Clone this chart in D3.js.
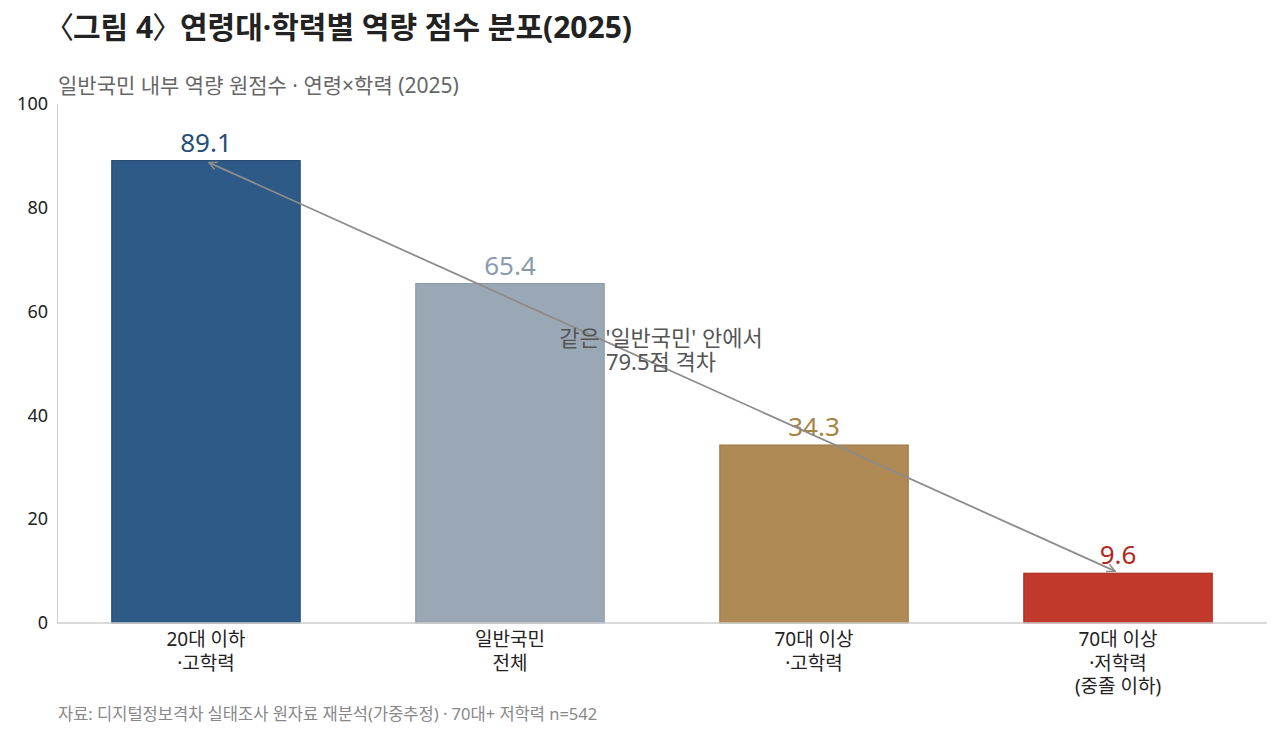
<!DOCTYPE html>
<html>
<head>
<meta charset="utf-8">
<script src="https://cdn.jsdelivr.net/npm/d3@7"></script>
<style>
  body { margin: 0; background: #fff; }
  svg { font-family: "Noto Sans", "Noto Sans CJK KR", sans-serif; }
</style>
</head>
<body>
<svg width="1280" height="736"></svg>
<script>
// data
var categories = [["20대 이하", "·고학력"], ["일반국민", "전체"], ["70대 이상", "·고학력"], ["70대 이상", "·저학력", "(중졸 이하)"]];
var values = [89.1, 65.4, 34.3, 9.6];
var yTicks = [0, 20, 40, 60, 80, 100];

var barColors = ["#2e5a87", "#9aa8b5", "#b08a55", "#c0392b"];
var barStrokes = ["#1f4870", "#8796a4", "#9c7744", "#a8281c"];
var labelColors = ["#1f4e79", "#8a9bb0", "#a8823f", "#b3261b"];

var svg = d3.select("svg");
var plotL = 57, plotR = 1267, plotT = 104, plotB = 623;

var x = d3.scaleBand()
  .domain(d3.range(values.length))
  .range([plotL, plotR])
  .paddingInner(0.38)
  .paddingOuter(0.18);

var y = d3.scaleLinear()
  .domain([0, 100])
  .range([plotB, plotT]);

// titles (CJK angle brackets are wide, so pull them in)
var title = svg.append("text")
  .attr("x", 58).attr("y", 38)
  .attr("font-size", 30).attr("font-weight", "bold").attr("fill", "#222");
title.append("tspan").attr("dx", -14).attr("font-weight", "normal").text("〈");
title.append("tspan").attr("dx", -1).text("그림 4");
title.append("tspan").attr("dx", -1).attr("font-weight", "normal").text("〉");
title.append("tspan").attr("dx", -10).text(" 연령대·학력별 역량 점수 분포(2025)");

svg.append("text")
  .attr("x", 58).attr("y", 93)
  .attr("font-size", 21).attr("fill", "#666")
  .text("일반국민 내부 역량 원점수 · 연령×학력 (2025)");

// y axis
var yAxis = svg.append("g")
  .attr("transform", "translate(" + plotL + ",0)")
  .call(d3.axisLeft(y).tickValues(yTicks).tickSize(0).tickPadding(9));
yAxis.select(".domain").attr("stroke", "#ccc");
yAxis.selectAll("text").attr("font-size", 18).attr("fill", "#222")
  .attr("font-family", "\"Noto Sans\", sans-serif");

// bars
svg.selectAll("rect.bar")
  .data(values)
  .enter()
  .append("rect")
  .attr("class", "bar")
  .attr("x", function(d, i) { return x(i); })
  .attr("y", function(d) { return y(d); })
  .attr("width", x.bandwidth())
  .attr("height", function(d) { return y(0) - y(d); })
  .attr("fill", function(d, i) { return barColors[i]; })
  .attr("stroke", function(d, i) { return barStrokes[i]; })
  .attr("stroke-width", 1);

// x baseline
svg.append("line")
  .attr("x1", plotL).attr("x2", plotR)
  .attr("y1", y(0)).attr("y2", y(0))
  .attr("stroke", "#ccc").attr("stroke-width", 1.5);

// value labels
svg.selectAll("text.val")
  .data(values)
  .enter()
  .append("text")
  .attr("class", "val")
  .attr("x", function(d, i) { return x(i) + x.bandwidth() / 2; })
  .attr("y", function(d) { return y(d) - 9; })
  .attr("text-anchor", "middle")
  .attr("font-size", 26)
  .attr("fill", function(d, i) { return labelColors[i]; })
  .text(function(d) { return d.toFixed(1); });

// category labels
var cat = svg.selectAll("text.cat")
  .data(categories)
  .enter()
  .append("text")
  .attr("class", "cat")
  .attr("text-anchor", "middle")
  .attr("font-size", 19)
  .attr("fill", "#222");
cat.selectAll("tspan")
  .data(function(d, i) { return d.map(function(s) { return { s: s, i: i }; }); })
  .enter()
  .append("tspan")
  .attr("x", function(d) { return x(d.i) + x.bandwidth() / 2; })
  .attr("y", function(d, j) { return 646 + j * 23.5; })
  .text(function(d) { return d.s; });

// arrow between first and last
var defs = svg.append("defs");
["start", "end"].forEach(function(k) {
  defs.append("marker")
    .attr("id", "arr-" + k)
    .attr("viewBox", "0 0 10 10")
    .attr("refX", 9).attr("refY", 5)
    .attr("markerWidth", 10).attr("markerHeight", 10)
    .attr("markerUnits", "userSpaceOnUse")
    .attr("orient", k == "start" ? "auto-start-reverse" : "auto")
    .append("path")
    .attr("d", "M1,1 L9,5 L1,9")
    .attr("fill", "none")
    .attr("stroke", "#8c8c8c")
    .attr("stroke-width", 1.6);
});

var last = values.length - 1;
svg.append("line")
  .attr("x1", x(0) + x.bandwidth() / 2 + 3).attr("y1", y(values[0]) + 2)
  .attr("x2", x(last) + x.bandwidth() / 2 - 3).attr("y2", y(values[last]) - 2)
  .attr("stroke", "#8c8c8c").attr("stroke-width", 1.8)
  .attr("marker-start", "url(#arr-start)")
  .attr("marker-end", "url(#arr-end)");

// annotation
var note = svg.append("text")
  .attr("text-anchor", "middle")
  .attr("font-size", 22)
  .attr("fill", "#555");
note.append("tspan").attr("x", 661).attr("y", 346).text("같은 '일반국민' 안에서");
note.append("tspan").attr("x", 661).attr("y", 370).text("79.5점 격차");

// source
svg.append("text")
  .attr("x", 58).attr("y", 720)
  .attr("font-size", 16.5).attr("fill", "#888")
  .text("자료: 디지털정보격차 실태조사 원자료 재분석(가중추정) · 70대+ 저학력 n=542");
</script>
</body>
</html>
